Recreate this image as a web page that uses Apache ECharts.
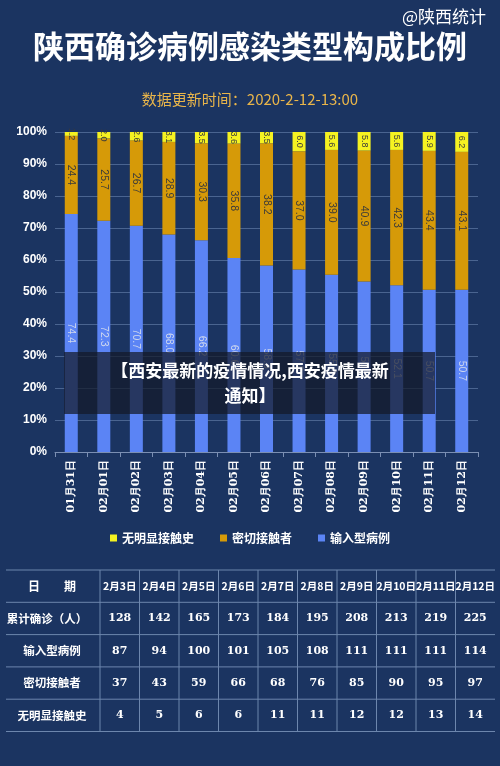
<!DOCTYPE html>
<html><head><meta charset="utf-8">
<script src="https://cdn.jsdelivr.net/npm/echarts@6/dist/echarts.min.js"></script>
<style>html,body{margin:0;background:#1b3461}#c{width:500px;height:766px}</style>
</head><body><div id="c"></div>
<script>
var dates = ['01月31日','02月01日','02月02日','02月03日','02月04日','02月05日','02月06日','02月07日','02月08日','02月09日','02月10日','02月11日','02月12日'];
var importPct = [74.4,72.3,70.7,68.0,66.2,60.6,58.3,57.0,55.4,53.3,52.1,50.7,50.7];
var contactPct = [24.4,25.7,26.7,28.9,30.3,35.8,38.2,37.0,39.0,40.9,42.3,43.4,43.1];
var unknownPct = [1.2,2.0,2.6,3.1,3.5,3.6,3.5,6.0,5.6,5.8,5.6,5.9,6.2];

var tableDays = ['2月3日','2月4日','2月5日','2月6日','2月7日','2月8日','2月9日','2月10日','2月11日','2月12日'];
var rowNames = ['累计确诊（人）','输入型病例','密切接触者','无明显接触史'];
var totalCases = [128,142,165,173,184,195,208,213,219,225];
var importCases = [87,94,100,101,105,108,111,111,111,114];
var contactCases = [37,43,59,66,68,76,85,90,95,97];
var unknownCases = [4,5,6,6,11,11,12,12,13,14];
var tableRows = [totalCases, importCases, contactCases, unknownCases];

var font = '"Noto Sans CJK SC", sans-serif';
var g = [];
// title parts
g.push({type:'text', right:14, top:8, style:{text:'@陕西统计', fill:'#fff', font:'17px '+font}});
g.push({type:'text', left:'center', top:31, style:{text:'陕西确诊病例感染类型构成比例', fill:'#fff', font:'bold 31px '+font}});
g.push({type:'text', left:'center', top:92, style:{text:'数据更新时间：2020-2-12-13:00', fill:'#e9b54a', font:'15px '+font}});

// table
var t0 = 570, rh = 32.3, c0 = 100, cw = 39.5;
for (var r = 0; r <= 5; r++) {
  g.push({type:'line', shape:{x1:6, y1:t0+r*rh, x2:495, y2:t0+r*rh}, style:{stroke:'#6d86ad', lineWidth:1}});
}
for (var c = 0; c < 10; c++) {
  g.push({type:'line', shape:{x1:c0+c*cw, y1:t0, x2:c0+c*cw, y2:t0+5*rh}, style:{stroke:'#6d86ad', lineWidth:1}});
}
g.push({type:'text', x:52, y:t0+rh/2, style:{text:'日　　期', fill:'#fff', font:'bold 12px '+font, align:'center', verticalAlign:'middle'}});
tableDays.forEach(function(d, i){
  g.push({type:'text', x:c0+cw*(i+0.5), y:t0+rh/2, style:{text:d, fill:'#fff', font:'bold 10.5px '+font, align:'center', verticalAlign:'middle'}});
});
rowNames.forEach(function(n, r){
  var y = t0 + rh*(r+1.5);
  g.push({type:'text', x:r==0?47:52, y:y, style:{text:n, fill:'#fff', font:'bold 11.5px '+font, align:'center', verticalAlign:'middle'}});
  tableRows[r].forEach(function(v, i){
    g.push({type:'text', x:c0+cw*(i+0.5), y:y, style:{text:String(v), fill:'#fff', font:'bold 11px "DejaVu Serif", serif', align:'center', verticalAlign:'middle'}});
  });
});
// overlay banner
g.push({type:'rect', shape:{x:64, y:352, width:371, height:62}, style:{fill:'rgba(20,25,40,0.72)'}, z:100});
g.push({type:'text', x:250, y:383, z:101, style:{text:'【西安最新的疫情情况,西安疫情最新\n通知】', fill:'#fff', font:'bold 17px '+font, align:'center', verticalAlign:'middle', lineHeight:25}});

var lbl = {show:true, position:'inside', rotate:-90, color:'#3a3a3a', fontSize:10.5, formatter:function(p){return p.value.toFixed(1);}};
var chart = echarts.init(document.getElementById('c'));
chart.setOption({
  backgroundColor:'#1b3461',
  graphic: g,
  grid:{left:55, right:22, top:132, height:320},
  legend:{top:527, left:'center', itemWidth:7, itemHeight:7, icon:'rect', itemGap:26,
    textStyle:{color:'#fff', fontSize:12, fontWeight:'bold', fontFamily:font},
    data:['无明显接触史','密切接触者','输入型病例']},
  xAxis:{type:'category', data:dates,
    axisLine:{lineStyle:{color:'#7b8fb3'}}, axisTick:{show:true, lineStyle:{color:'#7b8fb3'}},
    axisLabel:{rotate:90, color:'#fff', fontWeight:'bold', fontSize:11, fontFamily:'"DejaVu Serif", serif', interval:0}},
  yAxis:{type:'value', min:0, max:100, interval:10,
    axisLabel:{formatter:'{value}%', color:'#fff', fontWeight:'bold', fontSize:12},
    axisLine:{show:false}, splitLine:{lineStyle:{color:'#4a6490'}}},
  series:[
    {name:'输入型病例', type:'bar', stack:'a', data:importPct, barWidth:13, itemStyle:{color:'#5b84f5'}, label:Object.assign({}, lbl, {color:'#cfd8ee'})},
    {name:'密切接触者', type:'bar', stack:'a', data:contactPct, itemStyle:{color:'#d69a08'}, label:lbl},
    {name:'无明显接触史', type:'bar', stack:'a', data:unknownPct, itemStyle:{color:'#f5f221'}, label:Object.assign({}, lbl, {fontSize:9})}
  ]
});
</script></body></html>
